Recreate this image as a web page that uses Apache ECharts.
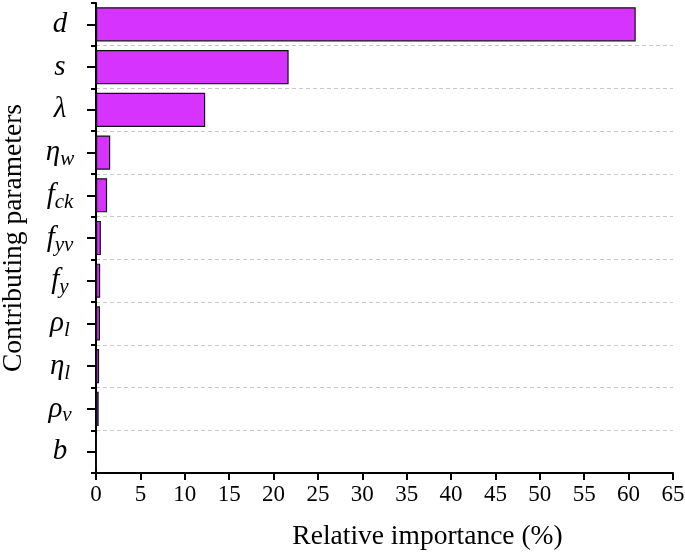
<!DOCTYPE html>
<html>
<head>
<meta charset="utf-8">
<script src="https://cdn.jsdelivr.net/npm/echarts@6/dist/echarts.min.js"></script>
<style>html,body{margin:0;padding:0;background:#fff}#c{width:685px;height:555px}</style>
</head>
<body>
<div id="c"></div>
<script>
// Data
const paramSymbols = ['d', 's', 'λ', 'η', 'f', 'f', 'f', 'ρ', 'η', 'ρ', 'b'];
const paramSubs    = ['',  '',  '',  'w', 'ck', 'yv', 'y', 'l', 'l', 'v', ''];
const importance   = [60.8, 21.7, 12.3, 1.6, 1.25, 0.55, 0.47, 0.45, 0.35, 0.3, 0.06];
const xTicks = { min: 0, max: 65, interval: 5 };

const categories = paramSymbols.map((s, i) => paramSubs[i] ? s + '_' + paramSubs[i] : s);
const FONT = "'Liberation Serif','Times New Roman',serif";

const chart = echarts.init(document.getElementById('c'), null, { renderer: 'canvas' });
chart.setOption({
  animation: false,
  backgroundColor: '#fff',
  grid: { left: 96, right: 12, top: 3, bottom: 82, containLabel: false, outerBoundsMode: 'none' },
  xAxis: {
    type: 'value', min: xTicks.min, max: xTicks.max, interval: xTicks.interval,
    name: 'Relative importance (%)', nameLocation: 'middle', nameGap: 50,
    nameTextStyle: { fontFamily: FONT, fontSize: 27.5, color: '#000', padding: [0, 0, 0, 86] },
    axisLine: { show: true, lineStyle: { color: '#000', width: 2 } },
    axisTick: { show: true, length: 7, lineStyle: { color: '#000', width: 2 } },
    axisLabel: { fontFamily: FONT, fontSize: 23, color: '#000', margin: 10 },
    splitLine: { show: false }
  },
  yAxis: [{
    type: 'category', inverse: true, data: categories,
    name: 'Contributing parameters', nameLocation: 'middle', nameGap: 68,
    nameTextStyle: { fontFamily: FONT, fontSize: 27.5, color: '#000' },
    axisLine: { show: true, lineStyle: { color: '#000', width: 2 } },
    axisTick: { show: true, alignWithLabel: true, length: 9, lineStyle: { color: '#000', width: 2 } },
    axisLabel: {
      align: 'center', margin: 36,
      formatter: function (v) {
        const p = v.split('_');
        return p.length > 1 ? '{m|' + p[0] + '}{s|' + p[1] + '}' : '{m|' + p[0] + '}';
      },
      rich: {
        m: { fontFamily: FONT, fontSize: 29, fontStyle: 'italic', color: '#000' },
        s: { fontFamily: FONT, fontSize: 21, fontStyle: 'italic', color: '#000', padding: [14, 0, 0, 0] }
      }
    },
    splitLine: {
      show: true,
      interval: function (i) { return i !== 0; },
      lineStyle: { color: '#c8c8c8', width: 1, type: [4, 3] }
    }
  }, {
    type: 'category', inverse: true, data: categories, position: 'left',
    axisLine: { show: false },
    axisTick: { show: true, alignWithLabel: false, length: 5, lineStyle: { color: '#000', width: 2 } },
    axisLabel: { show: false },
    splitLine: { show: false }
  }],
  series: [{
    type: 'bar', data: importance, xAxisIndex: 0, yAxisIndex: 0,
    barCategoryGap: '20%',
    itemStyle: { color: '#D633FF', borderColor: '#111', borderWidth: 1.2 }
  }]
});
</script>
</body>
</html>
